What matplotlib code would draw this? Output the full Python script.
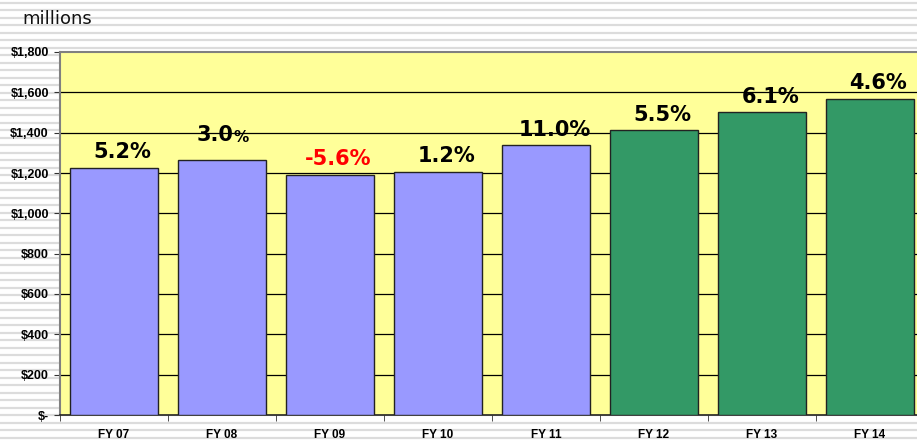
import matplotlib.pyplot as plt
import numpy as np

years = ["FY 07", "FY 08", "FY 09", "FY 10", "FY 11", "FY 12", "FY 13", "FY 14"]
revenue = [1225, 1263, 1191, 1206, 1338, 1412, 1501, 1568]
growth = [5.2, 3.0, -5.6, 1.2, 11.0, 5.5, 6.1, 4.6]
projected = [False, False, False, False, False, True, True, True]
yticks = [0, 200, 400, 600, 800, 1000, 1200, 1400, 1600, 1800]
ytick_labels = ["$-", "$200", "$400", "$600", "$800", "$1,000", "$1,200",
                "$1,400", "$1,600", "$1,800"]


def make_plot():
    W, H = 917, 445
    fig = plt.figure(figsize=(W / 100, H / 100), dpi=100)
    fig.patch.set_facecolor("white")

    # striped backdrop
    bg = fig.add_axes([0, 0, 1, 1])
    bg.set_xlim(0, W)
    bg.set_ylim(H, 0)
    bg.hlines(np.arange(2.5, H, 7.5), 0, W, colors="#dcdcdc", linewidth=1.6)
    bg.axis("off")

    ax = fig.add_axes([60 / W, 30 / H, 864 / W, 363 / H])
    ax.set_facecolor("#ffff99")
    x = np.arange(len(years))
    for t in yticks[1:-1]:
        ax.axhline(t, color="black", linewidth=0.9, zorder=1)
    colors = ["#339966" if p else "#9999ff" for p in projected]
    ax.bar(x, revenue, width=0.82, color=colors, edgecolor="#222222",
           linewidth=1.0, zorder=3)

    ax.set_xlim(-0.5, len(years) - 0.5)
    ax.set_ylim(0, 1800)
    ax.set_yticks(yticks)
    ax.set_yticklabels(ytick_labels, fontfamily="Liberation Sans",
                       fontweight="bold", fontsize=9)
    ax.set_xticks(x)
    ax.set_xticklabels(years, fontfamily="Liberation Sans",
                       fontweight="bold", fontsize=8.5)
    ax.set_xticks(np.arange(-0.5, len(years), 1), minor=True)
    ax.tick_params(axis="x", which="major", length=0, pad=10)
    ax.tick_params(axis="x", which="minor", length=4, color="#333333")
    ax.tick_params(axis="y", length=4, color="#333333", pad=4)
    for s in ["left", "top"]:
        ax.spines[s].set_color("#808080")
        ax.spines[s].set_linewidth(1.5)
    ax.spines["bottom"].set_color("#222222")
    ax.spines["bottom"].set_linewidth(1.2)
    ax.spines["right"].set_visible(False)

    for xi, v, g in zip(x, revenue, growth):
        col = "red" if g < 0 else "black"
        txt = f"{g:.1f}"
        if xi == 1:
            # the FY08 label has a smaller percent sign
            ax.annotate(txt, (xi, v), xytext=(8, 11), textcoords="offset points",
                        ha="right", va="bottom", fontsize=15,
                        fontweight="bold", color=col, zorder=4)
            ax.annotate("%", (xi, v), xytext=(8, 11), textcoords="offset points",
                        ha="left", va="bottom", fontsize=11,
                        fontweight="bold", color=col, zorder=4)
        else:
            ax.annotate(txt + "%", (xi, v), xytext=(6, 4),
                        textcoords="offset points", ha="center", va="bottom",
                        fontsize=15, fontweight="bold", color=col, zorder=4)

    fig.text(22 / W, 1 - 19 / H, "millions", fontsize=13, va="center",
             ha="left", color="#111111")

    fig.savefig("out.png", dpi=100)


if __name__ == "__main__":
    make_plot()
